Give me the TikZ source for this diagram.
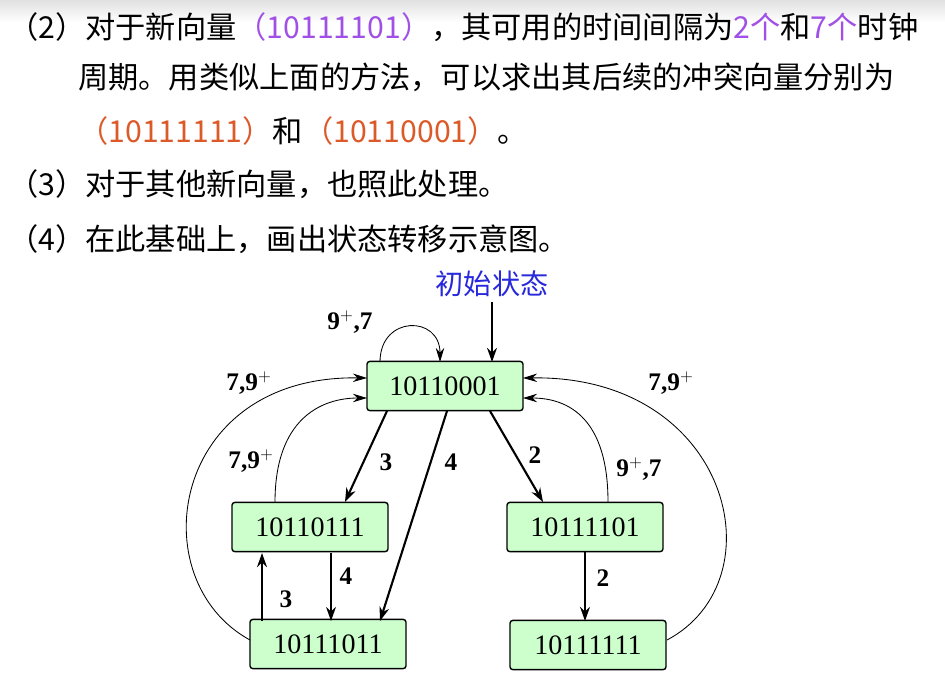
\documentclass[tikz,border=0pt]{standalone}
\usepackage{fontspec}
\setmainfont{Liberation Serif}
\newfontfamily\cjk{Noto Sans CJK SC}
\usetikzlibrary{arrows.meta}
\definecolor{vecpurple}{RGB}{160,80,230}
\definecolor{vecorange}{RGB}{220,90,40}
\definecolor{initblue}{RGB}{40,40,220}
\definecolor{boxgreen}{RGB}{204,255,204}
\tikzset{
  state/.style = {draw, line width=1pt, fill=boxgreen, rounded corners=2pt, minimum width=39mm, minimum height=12.3mm, font=\fontsize{20}{20}\selectfont},
  line/.style = {anchor=base west, inner sep=0pt, font=\cjk\fontsize{21.5}{22}\selectfont},
  lbl/.style = {font=\bfseries\fontsize{18}{18}\selectfont, inner sep=1pt},
  trans/.style = {-{Stealth[length=10pt,width=7pt]}, line width=1.5pt},
  back/.style = {-{Stealth[length=10pt,width=6pt]}, line width=0.6pt}
}
\begin{document}
\begin{tikzpicture}[x=0.25mm, y=-0.25mm]
            \useasboundingbox (0,0) rectangle (945,688);
            \fill[white] (0,0) rectangle (945,688);
            \shade[top color=black!12, bottom color=white] (0,0) rectangle (945,22);
            % text lines
            \node[line] (t1) at (8,38) {（2）对于新向量\textcolor{vecpurple}{（10111101）}，其可用的时间间隔为\textcolor{vecpurple}{2个}和\textcolor{vecpurple}{7个}时钟};
            \node[line] (t2) at (78,88) {周期。用类似上面的方法，可以求出其后续的冲突向量分别为};
            \node[line] (t3) at (78,142) {\textcolor{vecorange}{（10111111）}和\textcolor{vecorange}{（10110001）}。};
            \node[line] (t4) at (8,195) {（3）对于其他新向量，也照此处理。};
            \node[line] (t5) at (8,250) {（4）在此基础上，画出状态转移示意图。};
            % states
            \node[state] (A) at (445,386) {10110001};
            \node[state] (B) at (310,527) {10110111};
            \node[state] (C) at (585,527) {10111101};
            \node[state] (D) at (328,644) {10111011};
            \node[state] (E) at (588,645) {10111111};
            \node[text=initblue, font=\cjk\fontsize{20}{20}\selectfont] (init) at (492,284) {初始状态};
            \draw[trans] (init) -- (492,362);
            % forward transitions
            \draw[trans] (387,411) -- (345,502);
            \node[lbl] (l3a) at (386,462) {3};
            \draw[trans] (447,411) -- (380,621);
            \node[lbl] (l4a) at (451,462) {4};
            \draw[trans] (490,411) -- (543,502);
            \node[lbl] (l2a) at (535,455) {2};
            \draw[trans] (585,552) -- (585,621);
            \node[lbl] (l2b) at (603,578) {2};
            \draw[trans] (262,621) -- (262,553);
            \node[lbl] (l3b) at (286,599) {3};
            \draw[trans, line width=1.2pt] (331,553) -- (331,621);
            \node[lbl] (l4b) at (346,576) {4};
            % returns to 10110001
            \draw[back] (380,362) .. controls (380,315) and (440,315) .. (440,362);
            \node[lbl] (s1) at (350,322) {9$^+$,7};
            \draw[back] (250,640) .. controls (140,580) and (170,375) .. (367,378);
            \node[lbl] (s2) at (249,383) {7,9$^+$};
            \draw[back] (275,502) .. controls (275,420) and (320,398) .. (367,398);
            \node[lbl] (s3) at (251,461) {7,9$^+$};
            \draw[back] (608,502) .. controls (608,420) and (570,398) .. (523,398);
            \node[lbl] (s4) at (639,469) {9$^+$,7};
            \draw[back] (667,640) .. controls (780,580) and (730,375) .. (523,378);
            \node[lbl] (s5) at (671,383) {7,9$^+$};
\end{tikzpicture}
\end{document}
